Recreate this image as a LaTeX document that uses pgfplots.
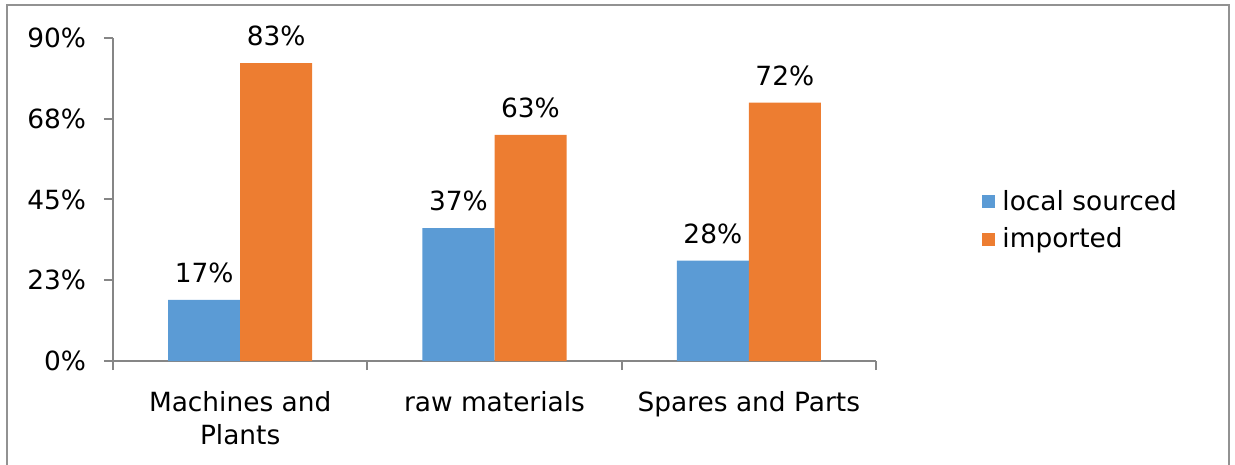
\documentclass[border=0pt]{standalone}
\usepackage{pgfplots}
\pgfplotsset{compat=1.18}
\usepackage{fontspec}
\setmainfont{DejaVu Sans}
\definecolor{cblue}{HTML}{5B9BD5}
\definecolor{corange}{HTML}{ED7D31}
\definecolor{axgray}{HTML}{868686}
\begin{document}
\begin{tikzpicture}[font=\fontsize{13.2}{16.5}\selectfont]
\useasboundingbox (-56.5pt,-52pt) rectangle (561pt,180.5pt);
\draw[color=axgray!90, line width=1pt] (-53pt,-53pt) -- (-53pt,178pt) -- (558pt,178pt) -- (558pt,-53pt);
\begin{axis}[
  at={(0,0)}, anchor=south west, scale only axis,
  width=381.5pt, height=161.5pt,
  ybar=0pt, bar width=36pt,
  xmin=-0.5, xmax=2.5, ymin=0, ymax=90,
  axis x line*=bottom, axis y line*=left,
  axis line style={axgray, line width=1pt},
  ytick={0,22.5,45,67.5,90},
  yticklabels={0\%,23\%,45\%,68\%,90\%},
  xtick={0,1,2},
  xticklabels={{Machines and\\Plants},{raw materials},{Spares and Parts}},
  xticklabel style={align=center, yshift=-7pt},
  major x tick style={draw=none},
  minor xtick={-0.5,0.5,1.5,2.5},
  tick align=outside,
  major tick length=4.5pt, minor tick length=4.5pt,
  tick style={axgray, line width=1pt},
  yticklabel style={xshift=-5.5pt},
  /pgf/number format/assume math mode=true,
  nodes near coords={\pgfmathprintnumber{\pgfplotspointmeta}\%},
  nodes near coords style={text=black, anchor=south, yshift=5pt},
  legend style={at={(1.139,0.435)}, anchor=west, draw=none, fill=none,
    inner sep=0pt, row sep=3pt, /tikz/every even column/.append style={column sep=0pt}},
  legend cell align=left,
  legend image code/.code={\fill[#1] (0pt,-3.25pt) rectangle (6.5pt,3.25pt);},
  clip=false,
]
\addplot[fill=cblue, draw=none] coordinates {(0,17) (1,37) (2,28)};
\addplot[fill=corange, draw=none] coordinates {(0,83) (1,63) (2,72)};
\legend{\hspace{1.5pt}local sourced, \hspace{1.5pt}imported}
\end{axis}
\end{tikzpicture}
\end{document}
